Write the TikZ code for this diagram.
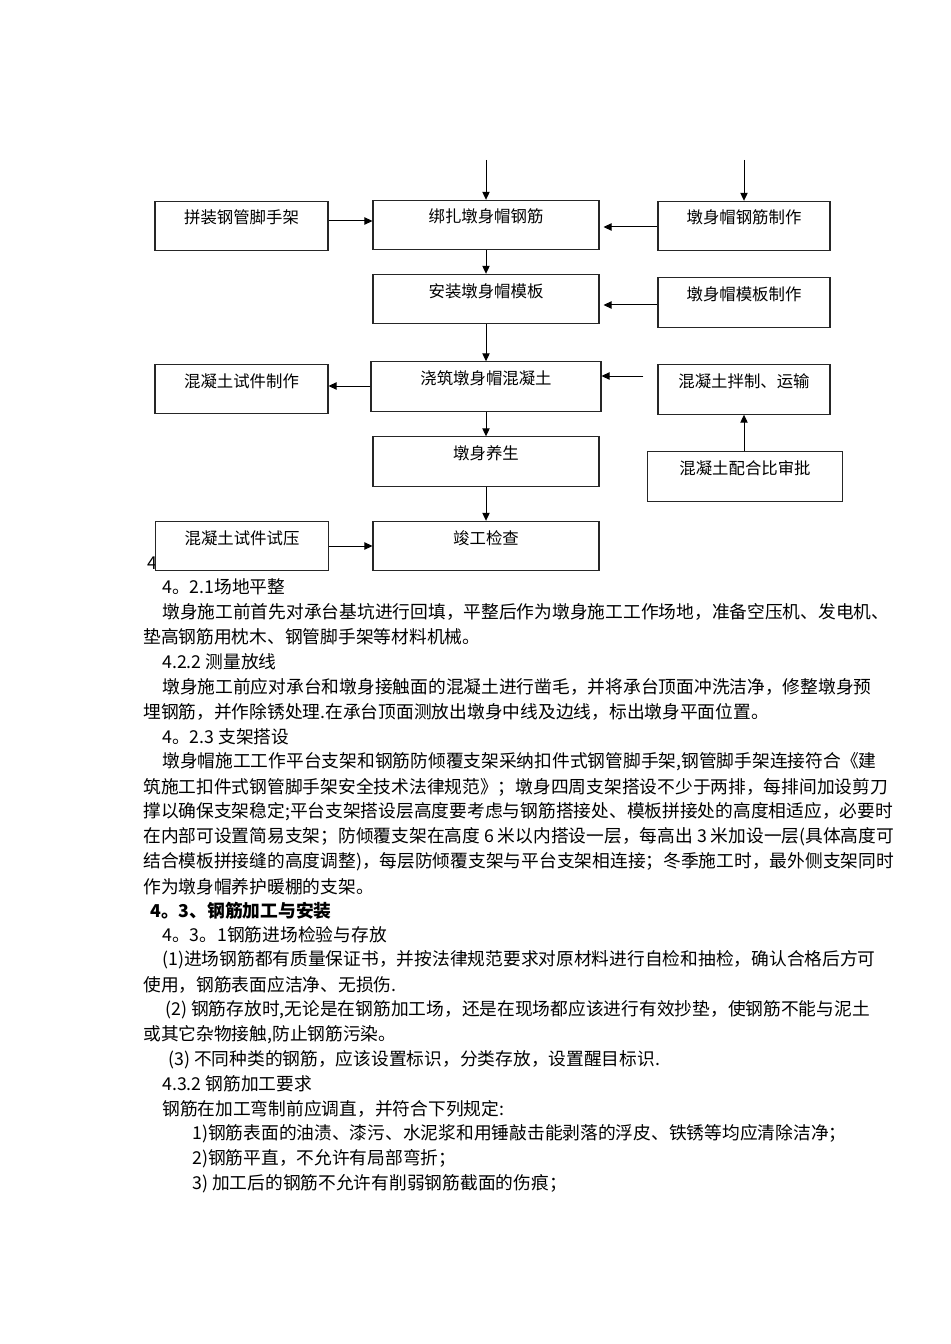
\documentclass[tikz,border=0pt]{standalone}
\usepackage{fontspec}
\setmainfont{Noto Sans CJK SC}
\usetikzlibrary{arrows.meta}
\begin{document}
\begin{tikzpicture}[x=0.75pt,y=-0.75pt,
  box/.style={draw=black!85, line width=0.8pt, fill=white, inner sep=0pt,
    minimum width=#1, text height=17pt, text depth=20pt,
    font=\fontsize{12.3pt}{14pt}\selectfont},
  arr/.style={-{Triangle[length=6pt,width=5.5pt]}, line width=0.75pt},
  txt/.style={anchor=west, inner sep=0pt, font=\fontsize{13.3pt}{16pt}\selectfont}]
\useasboundingbox (0,0) rectangle (950,1344);

% body text
\node[txt] (t0) at (147,563) {4};
\node[txt] (t1) at (162,587) {4。2.1场地平整};
\node[txt] (t2) at (162,612) {墩身施工前首先对承台基坑进行回填，平整后作为墩身施工工作场地，准备空压机、发电机、};
\node[txt] (t3) at (143,637) {垫高钢筋用枕木、钢管脚手架等材料机械。};
\node[txt] (t4) at (162,662) {4.2.2 测量放线};
\node[txt] (t5) at (162,687) {墩身施工前应对承台和墩身接触面的混凝土进行凿毛，并将承台顶面冲洗洁净，修整墩身预};
\node[txt] (t6) at (143,712) {埋钢筋，并作除锈处理.在承台顶面测放出墩身中线及边线，标出墩身平面位置。};
\node[txt] (t7) at (162,737) {4。2.3 支架搭设};
\node[txt] (t8) at (162,762) {墩身帽施工工作平台支架和钢筋防倾覆支架采纳扣件式钢管脚手架,钢管脚手架连接符合《建};
\node[txt] (t9) at (143,787) {筑施工扣件式钢管脚手架安全技术法律规范》；墩身四周支架搭设不少于两排，每排间加设剪刀};
\node[txt] (t10) at (143,812) {撑以确保支架稳定;平台支架搭设层高度要考虑与钢筋搭接处、模板拼接处的高度相适应，必要时};
\node[txt] (t11) at (143,837) {在内部可设置简易支架；防倾覆支架在高度 6 米以内搭设一层，每高出 3 米加设一层(具体高度可};
\node[txt] (t12) at (143,862) {结合模板拼接缝的高度调整)，每层防倾覆支架与平台支架相连接；冬季施工时，最外侧支架同时};
\node[txt] (t13) at (143,887) {作为墩身帽养护暖棚的支架。};
\node[txt, font=\fontsize{13.3pt}{16pt}\selectfont\bfseries] (t14) at (150,911) {4。3、钢筋加工与安装};
\node[txt] (t15) at (162,935) {4。3。1钢筋进场检验与存放};
\node[txt] (t16) at (162,960) {(1)进场钢筋都有质量保证书，并按法律规范要求对原材料进行自检和抽检，确认合格后方可};
\node[txt] (t17) at (143,985) {使用，钢筋表面应洁净、无损伤.};
\node[txt] (t18) at (165,1010) {(2) 钢筋存放时,无论是在钢筋加工场，还是在现场都应该进行有效抄垫，使钢筋不能与泥土};
\node[txt] (t19) at (143,1035) {或其它杂物接触,防止钢筋污染。};
\node[txt] (t20) at (168,1060) {(3) 不同种类的钢筋，应该设置标识，分类存放，设置醒目标识.};
\node[txt] (t21) at (162,1084) {4.3.2 钢筋加工要求};
\node[txt] (t22) at (162,1109) {钢筋在加工弯制前应调直，并符合下列规定:};
\node[txt] (t23) at (192,1134) {1)钢筋表面的油渍、漆污、水泥浆和用锤敲击能剥落的浮皮、铁锈等均应清除洁净；};
\node[txt] (t24) at (192,1159) {2)钢筋平直，不允许有局部弯折；};
\node[txt] (t25) at (192,1184) {3) 加工后的钢筋不允许有削弱钢筋截面的伤痕；};

% flow chart
\node[box=129.75pt] (pz) at (241.5,226) {拼装钢管脚手架};
\node[box=169.5pt] (bz) at (486,225) {绑扎墩身帽钢筋};
\node[box=129pt] (gjzz) at (744,226) {墩身帽钢筋制作};
\node[box=169.5pt] (az) at (486,299) {安装墩身帽模板};
\node[box=129pt] (mbzz) at (744,302.5) {墩身帽模板制作};
\node[box=172.5pt] (jz) at (486,386.5) {浇筑墩身帽混凝土};
\node[box=129.75pt] (sjzz) at (241.5,389) {混凝土试件制作};
\node[box=129pt] (bzys) at (744,389.5) {混凝土拌制、运输};
\node[box=169.5pt] (ys) at (486,461.5) {墩身养生};
\node[box=146.25pt] (phb) at (745,476.5) {混凝土配合比审批};
\node[box=129.75pt] (sy) at (242,546) {混凝土试件试压};
\node[box=169.5pt] (jg) at (486,546) {竣工检查};
\coordinate (in1) at (486,160);
\coordinate (in2) at (744,160);

\draw[arr] (in1) -- (bz);
\draw[arr] (in2) -- (gjzz);
\draw[arr] (pz.east |- 0,221) -- (bz.west |- 0,221);
\draw[arr, shorten >=3pt] (gjzz.west |- 0,227) -- (bz.east |- 0,227);
\draw[arr] (bz) -- (az);
\draw[arr, shorten >=3pt] (mbzz.west |- 0,305) -- (az.east |- 0,305);
\draw[arr] (az) -- (jz);
\draw[arr, shorten <=10.5pt] (bzys.west |- 0,376) -- (jz.east |- 0,376);
\draw[arr] (jz.west |- 0,386) -- (sjzz.east |- 0,386);
\draw[arr] (phb.north -| 744,0) -- (bzys.south -| 744,0);
\draw[arr] (jz) -- (ys);
\draw[arr] (ys) -- (jg);
\draw[arr] (sy) -- (jg);
\end{tikzpicture}
\end{document}
